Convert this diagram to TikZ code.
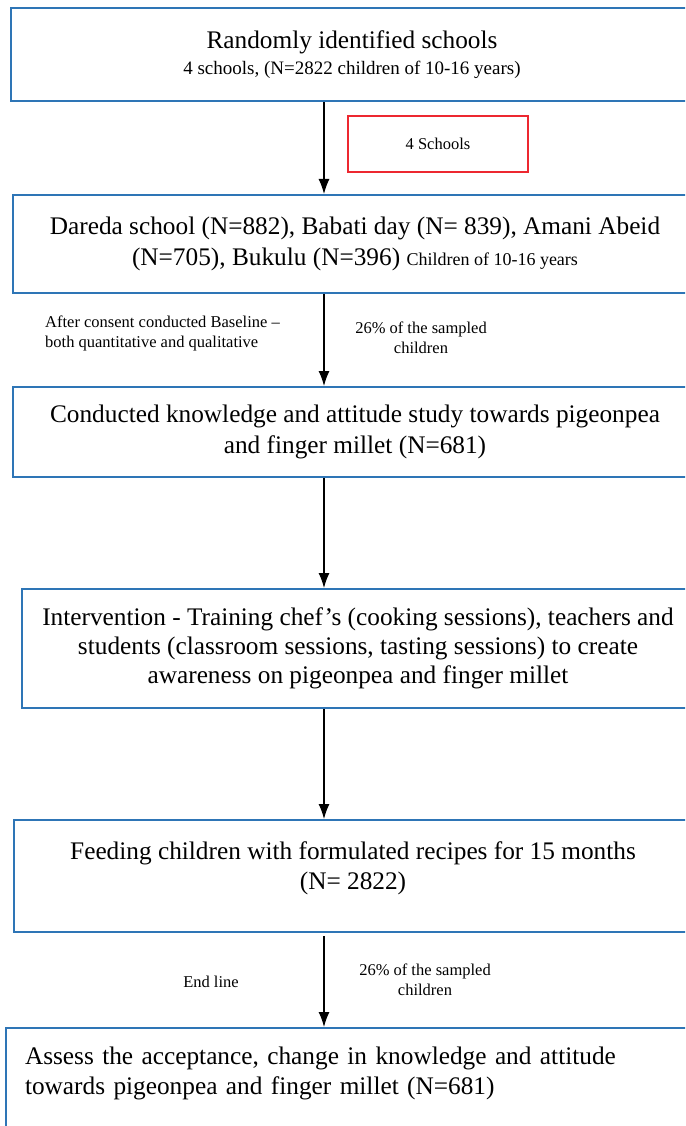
\documentclass[tikz,border=0pt]{standalone}
\usepackage{fontspec}
\setmainfont{Liberation Serif}
\usepackage{xcolor}
\usetikzlibrary{arrows.meta}
\definecolor{boxblue}{RGB}{46,117,182}
\definecolor{boxred}{RGB}{237,40,48}

\begin{document}
\begin{tikzpicture}[x=1pt,y=-1pt]
    \tikzstyle{B}=[rectangle,draw=boxblue,line width=2pt,align=center,inner sep=0pt,font=\fontsize{25.3}{31}\selectfont]
    \tikzstyle{R}=[rectangle,draw=boxred,line width=1.4pt,minimum width=180pt,minimum height=56pt,font=\fontsize{16.5}{20}\selectfont]
    \tikzstyle{T}=[align=left,inner sep=0pt,font=\fontsize{16.5}{20}\selectfont]
    \tikzstyle{A}=[-{Latex[length=15pt,width=11pt]},line width=1.2pt]

    \useasboundingbox (0,0) rectangle (685,1126);
    \clip (0,0) rectangle (685,1126);

    % Boxes
    \node [B,minimum width=682pt,minimum height=93pt] (random) at (352,55)
        {Randomly identified schools\\[-5pt]{\fontsize{19}{23}\selectfont 4 schools, (N=2822 children of 10-16 years)}};
    \node [B,minimum width=684pt,minimum height=98pt] (dareda) at (355,244)
        {Dareda school (N=882), Babati day (N= 839), Amani Abeid\\(N=705), Bukulu (N=396) {\fontsize{18}{22}\selectfont Children of 10-16 years}};
    \node [B,minimum width=684pt,minimum height=90pt] (study) at (355,432)
        {Conducted knowledge and attitude study towards pigeonpea\\and finger millet (N=681)};
    \node [B,minimum width=672pt,minimum height=119pt] (interv) at (358,648.5)
        {Intervention - Training chef's (cooking sessions), teachers and\\[-2pt]students (classroom sessions, tasting sessions) to create\\[-2pt]awareness on pigeonpea and finger millet};
    \node [B,minimum width=678pt,minimum height=112pt,text depth=21pt] (feeding) at (353,876)
        {Feeding children with formulated recipes for 15 months\\[-1pt](N= 2822)};
    \node [B,anchor=north west,align=left,text width=660pt,inner xsep=19pt,inner ysep=19pt,text depth=70pt] (assess) at (5,1027)
        {Assess the acceptance, change in knowledge and attitude\\[-1pt]towards pigeonpea and finger millet (N=681)};

    \node [R] (four) at (438,144) {4 Schools};

    % Labels beside the arrows
    \node [T,anchor=west] (consent) at (45,333) {After consent conducted Baseline --\\both quantitative and qualitative};
    \node [T,align=center] (sampled) at (421,338) {26\% of the sampled\\children};
    \node [T] (endline) at (211,982) {End line};
    \node [T,align=center] (sampledend) at (425,980) {26\% of the sampled\\children};

    % Arrows
    \coordinate (ax) at (324,0);
    \draw [A] (random.south -| ax) -- (dareda.north -| ax);
    \draw [A] (dareda.south -| ax) -- (study.north -| ax);
    \draw [A] (study.south -| ax) -- (interv.north -| ax);
    \draw [A] (interv.south -| ax) -- (feeding.north -| ax);
    \draw [A] ([yshift=-3pt]feeding.south -| ax) -- (assess.north -| ax);
\end{tikzpicture}
\end{document}
